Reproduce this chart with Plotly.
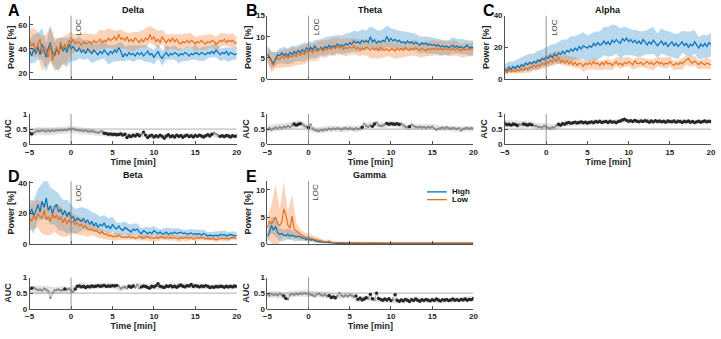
import numpy as np
import plotly.graph_objects as go

# ---------------- data ----------------
t = np.round(np.arange(101) * 0.25 - 5, 2)      # time grid [min], 0.25-min bins

band_names = ["Delta", "Theta", "Alpha", "Beta", "Gamma"]
panel_letters = ["A", "B", "C", "D", "E"]
series_names = ["High", "Low"]
x_ticks = [-5, 0, 5, 10, 15, 20]
auc_ticks = [0, 0.5, 1]
auc_ticktext = ["0", "0.5", "1"]
power_ticks = [[20, 40, 60], [0, 5, 10, 15], [0, 20, 40], [0, 20, 40], [0, 5, 10]]
power_ranges = [[15, 67.5], [0, 15], [0, 40], [0, 41], [0, 11.6]]

delta_high = [38, 34, 40, 36, 42, 35, 44, 38, 33, 41, 45, 37, 34, 40, 36, 43, 38, 41, 37, 44, 40,
              42, 39, 38, 41, 37, 39, 36, 40, 38, 36, 39, 37, 35, 38, 36, 39, 37, 35, 38, 36,
              39, 37, 41, 38, 33, 36, 34, 37, 35, 36, 34, 37, 35, 37, 34, 36, 38, 35, 36, 33,
              36, 38, 34, 32, 35, 37, 34, 36, 35, 37, 36, 34, 36, 35, 37, 36, 34, 36, 35, 37,
              36, 35, 37, 36, 35, 37, 36, 38, 36, 39, 37, 35, 37, 36, 38, 35, 37, 36, 35, 36]
delta_low = [47, 42, 45, 38, 44, 48, 36, 42, 39, 33, 44, 30, 37, 42, 35, 46, 39, 44, 40, 47, 45,
             48, 44, 46, 45, 43, 46, 44, 45, 46, 44, 47, 45, 46, 48, 45, 47, 46, 49, 47, 48,
             50, 47, 52, 48, 49, 47, 50, 46, 48, 46, 49, 47, 45, 48, 46, 49, 47, 52, 48, 50,
             46, 48, 45, 50, 47, 45, 48, 46, 49, 46, 48, 45, 44, 46, 45, 47, 45, 47, 46, 44,
             46, 45, 47, 45, 44, 46, 45, 47, 46, 44, 45, 47, 46, 48, 45, 47, 46, 47, 45, 45]
delta_high_sd = [10, 12, 11, 13, 12, 14, 12, 13, 11, 12, 10,
                 9, 9, 8, 8, 8, 7, 7, 7, 8, 7, 7, 8, 6, 6, 7, 6, 6, 7, 6, 6,
                 6, 6, 6, 5, 6, 6, 5, 6, 5, 6, 5, 6, 5, 5, 6, 5, 5, 6, 5, 5]
delta_low_sd = [9, 12, 10, 14, 13, 15, 12, 14, 11, 12, 9,
                7, 7, 7, 8, 8, 7, 8, 8, 8, 8, 8, 8, 7, 7, 8, 7, 7, 8, 7, 7,
                7, 6, 7, 6, 6, 7, 6, 6, 6, 6, 6, 6, 6, 5, 6, 6, 5, 5, 6, 5]
delta_auc = [0.36, 0.34, 0.38, 0.42, 0.44, 0.43, 0.46, 0.44, 0.42, 0.45, 0.43, 0.46, 0.44,
             0.46, 0.45, 0.47, 0.46, 0.48, 0.47, 0.50, 0.49, 0.51, 0.48, 0.47, 0.46,
             0.45, 0.44, 0.46, 0.43, 0.42, 0.44, 0.41, 0.40, 0.38, 0.40, 0.43, 0.36,
             0.35, 0.33, 0.34, 0.32, 0.33, 0.31, 0.32, 0.34, 0.30, 0.33, 0.22, 0.28,
             0.25, 0.30, 0.27, 0.32, 0.28, 0.33, 0.40, 0.30, 0.22, 0.27, 0.30, 0.24,
             0.28, 0.25, 0.30, 0.26, 0.20, 0.27, 0.31, 0.25, 0.28, 0.24, 0.30, 0.26,
             0.29, 0.23, 0.27, 0.30, 0.25, 0.28, 0.24, 0.29, 0.26, 0.30, 0.27, 0.24,
             0.28, 0.31, 0.27, 0.33, 0.38, 0.34, 0.29, 0.26, 0.28, 0.25, 0.29, 0.27,
             0.24, 0.28, 0.26, 0.27]
delta_auc_sd = [0.12, 0.13, 0.13, 0.12, 0.12, 0.12, 0.11, 0.11, 0.10, 0.10, 0.09, 0.09, 0.09,
                0.09, 0.08, 0.08, 0.08, 0.08, 0.08, 0.08, 0.08, 0.08, 0.08, 0.08, 0.08, 0.08]
delta_sig = [(-5, -4.7), (4.0, 8.3), (8.7, 17.0), (17.9, 20)]

theta_high = [6.0, 5.2, 4.5, 3.6, 4.8, 5.8, 5.5, 6.2, 5.6, 6.0, 5.4, 6.3, 5.8, 6.5, 6.0, 6.8, 6.2,
              7.0, 6.4, 7.4, 6.8, 7.5, 6.9, 7.8, 7.2, 6.8, 7.5, 7.0, 7.7, 7.3, 8.0, 7.5, 7.9,
              7.6, 8.3, 7.8, 8.1, 7.7, 8.4, 8.0, 8.6, 8.2, 9.0, 8.5, 8.8, 8.4, 9.2, 8.7, 9.1,
              8.6, 10.0, 8.8, 9.3, 8.5, 9.0, 8.7, 9.2, 8.9, 10.1, 9.0, 9.6, 9.0, 9.4, 8.8, 9.2,
              8.6, 8.9, 8.4, 9.0, 8.5, 8.8, 8.3, 8.7, 8.4, 8.0, 8.6, 8.2, 8.5, 8.0, 8.3, 7.9,
              8.2, 7.8, 8.1, 7.6, 7.9, 7.5, 7.8, 7.4, 7.7, 8.0, 7.5, 7.8, 7.4, 7.7, 7.2, 7.6,
              8.0, 7.3, 7.6, 7.4]
theta_low = [5.8, 5.0, 4.0, 3.2, 4.4, 5.0, 4.6, 5.4, 4.8, 5.6, 4.9, 5.5, 5.2, 5.8, 5.3, 6.0, 5.6,
             6.2, 5.8, 6.6, 6.3, 6.9, 6.2, 7.0, 6.5, 6.8, 7.2, 6.6, 7.1, 6.9, 7.4, 7.0, 7.6,
             7.2, 7.8, 7.3, 7.6, 7.0, 7.5, 7.2, 7.7, 7.3, 7.8, 7.1, 7.5, 6.8, 7.4, 7.0, 7.6,
             7.2, 6.8, 7.4, 7.0, 7.3, 6.7, 7.5, 7.0, 6.8, 7.2, 6.6, 7.1, 7.0, 6.6, 7.3, 6.8,
             7.2, 6.9, 7.5, 7.0, 6.8, 7.3, 7.0, 7.4, 7.1, 6.8, 7.3, 7.0, 6.7, 7.2, 6.9, 7.3,
             7.0, 7.4, 6.9, 7.2, 6.8, 7.3, 7.0, 7.1, 6.9, 7.3, 6.8, 7.2, 7.0, 6.7, 7.2, 6.9,
             7.1, 7.0, 7.2, 7.0]
theta_high_sd = [1.8, 2.0, 1.6, 1.8, 2.0, 1.9, 2.1, 1.8, 2.0, 2.2, 1.9,
                 2.0, 2.1, 1.9, 2.2, 2.0, 2.3, 2.1, 2.2, 2.4, 2.3,
                 2.5, 2.4, 2.6, 2.3, 2.5, 2.7, 2.4, 2.6, 2.5, 2.4,
                 2.3, 2.2, 2.4, 2.1, 2.2, 2.0, 2.1, 1.9, 2.0, 1.9,
                 1.8, 1.9, 1.7, 1.8, 1.9, 1.7, 1.8, 1.7, 1.8, 1.7]
theta_low_sd = [2.0, 2.4, 1.8, 2.0, 2.2, 2.1, 2.3, 2.0, 2.2, 2.3, 2.1,
                2.0, 2.2, 2.0, 2.1, 1.9, 2.1, 2.0, 1.9, 2.1, 2.0,
                1.9, 2.0, 1.8, 2.0, 1.9, 2.1, 1.9, 2.0, 1.8, 1.9,
                1.8, 1.9, 1.8, 1.7, 1.8, 1.9, 1.7, 1.8, 1.7, 1.8,
                1.7, 1.8, 1.6, 1.7, 1.8, 1.7, 1.6, 1.7, 1.6, 1.7]
theta_auc = [0.50, 0.53, 0.48, 0.52, 0.55, 0.52, 0.57, 0.54, 0.58, 0.56, 0.60, 0.57, 0.62,
             0.67, 0.63, 0.66, 0.68, 0.66, 0.60, 0.58, 0.55, 0.65, 0.52, 0.47, 0.45,
             0.44, 0.47, 0.45, 0.49, 0.48, 0.51, 0.49, 0.52, 0.50, 0.53, 0.51, 0.49,
             0.52, 0.54, 0.50, 0.53, 0.51, 0.49, 0.53, 0.50, 0.52, 0.56, 0.68, 0.60,
             0.58, 0.62, 0.59, 0.67, 0.72, 0.63, 0.60, 0.62, 0.65, 0.69, 0.66, 0.68,
             0.67, 0.66, 0.68, 0.65, 0.68, 0.62, 0.58, 0.56, 0.58, 0.65, 0.60, 0.57,
             0.56, 0.58, 0.55, 0.57, 0.54, 0.57, 0.55, 0.58, 0.52, 0.48, 0.51, 0.53,
             0.55, 0.52, 0.56, 0.53, 0.51, 0.54, 0.52, 0.50, 0.53, 0.45, 0.50, 0.52,
             0.54, 0.51, 0.53, 0.52]
theta_auc_sd = [0.12, 0.12, 0.11, 0.11, 0.11, 0.11, 0.10, 0.10, 0.10, 0.10, 0.10, 0.10, 0.10,
                0.10, 0.10, 0.10, 0.10, 0.09, 0.09, 0.09, 0.09, 0.09, 0.09, 0.09, 0.09, 0.09]
theta_sig = [(-1.8, -1.0), (-0.05, 0.05), (6.4, 6.6), (7.7, 8.1), (9.4, 11.1), (12.2, 12.3)]

alpha_high = [6.5, 5.0, 7.5, 6.0, 8.0, 6.5, 8.5, 7.0, 9.0, 8.0, 10.0, 9.0, 10.5, 9.5, 11.0, 10.0,
              12.0, 11.0, 13.0, 12.0, 14.0, 13.0, 15.0, 13.5, 16.0, 14.5, 16.5, 15.5, 17.5,
              16.0, 18.0, 17.0, 19.0, 17.5, 19.5, 18.0, 20.5, 19.0, 21.0, 20.0, 19.5,
              21.0, 20.0, 22.5, 21.0, 23.0, 21.5, 22.0, 24.0, 22.0, 23.5, 21.5, 24.5,
              23.0, 25.0, 23.5, 22.5, 25.5, 24.0, 26.0, 23.5, 25.0, 23.0, 24.5, 22.5,
              24.0, 22.0, 25.0, 23.0, 21.5, 23.5, 22.0, 24.5, 23.0, 21.0, 22.5, 24.0,
              21.5, 23.0, 20.5, 22.0, 23.5, 21.0, 22.5, 20.5, 22.0, 23.5, 21.0, 22.5,
              20.0, 22.0, 21.0, 23.5, 21.5, 19.5, 22.0, 20.5, 22.5, 20.5, 23.0, 21.5]
alpha_low = [5.0, 4.0, 6.0, 4.5, 5.5, 4.5, 6.0, 5.0, 6.5, 5.5, 7.0, 6.0, 7.5, 7.0, 8.5, 7.5, 9.0,
             8.0, 10.0, 9.0, 11.0, 10.0, 12.0, 10.5, 13.0, 11.0, 14.0, 10.5, 12.0,
             10.0, 11.5, 9.5, 11.0, 9.0, 10.5, 8.5, 10.0, 9.5, 8.0, 10.0, 9.0,
             10.5, 9.0, 11.0, 9.5, 10.0, 8.5, 10.5, 9.0, 11.0, 9.5, 10.0, 8.5,
             9.5, 11.0, 9.0, 10.0, 8.5, 10.5, 9.5, 11.0, 10.0, 9.0, 11.5, 10.0,
             9.5, 10.5, 9.0, 10.0, 11.0, 9.5, 10.5, 9.0, 10.0, 11.0, 9.5, 10.5,
             9.0, 10.0, 9.5, 11.0, 9.5, 8.5, 10.0, 9.0, 10.5, 9.5, 11.0, 12.0,
             13.0, 11.0, 10.0, 11.5, 10.0, 9.0, 10.5, 9.5, 9.0, 10.0, 9.5, 9.0]
alpha_high_sd = [3.0, 3.5, 3.0, 4.0, 4.5, 5.0, 5.5, 5.0, 6.0, 5.5, 6.0,
                 6.5, 6.0, 7.0, 7.5, 7.0, 8.0, 7.5, 8.0, 8.5, 8.0,
                 8.5, 9.0, 8.5, 9.0, 9.5, 10.0, 9.0, 9.5, 9.0, 8.5,
                 8.0, 8.5, 8.0, 7.5, 8.0, 8.5, 7.5, 8.0, 7.5, 8.0,
                 7.5, 8.0, 7.0, 7.5, 8.0, 7.5, 7.0, 7.5, 7.0, 7.5]
alpha_low_sd = [2.0, 2.5, 2.0, 2.5, 3.0, 3.0, 3.5, 3.0, 3.5, 3.5, 4.0,
                4.0, 4.5, 4.0, 3.5, 3.5, 3.0, 3.5, 3.0, 3.5, 3.0,
                3.0, 3.5, 3.0, 3.0, 3.5, 3.0, 3.0, 3.5, 3.0, 3.0,
                3.0, 3.5, 3.0, 3.0, 3.0, 3.5, 3.0, 3.0, 3.5, 3.0,
                3.0, 3.0, 3.5, 3.0, 3.5, 3.0, 3.0, 3.0, 3.5, 3.0]
alpha_auc = [0.68, 0.64, 0.66, 0.63, 0.67, 0.65, 0.62, 0.66, 0.64, 0.67, 0.65, 0.63, 0.66,
             0.64, 0.62, 0.60, 0.58, 0.57, 0.55, 0.60, 0.58, 0.54, 0.52, 0.56, 0.55,
             0.62, 0.66, 0.63, 0.68, 0.66, 0.70, 0.72, 0.69, 0.71, 0.73, 0.70, 0.72,
             0.74, 0.71, 0.73, 0.70, 0.72, 0.74, 0.71, 0.75, 0.73, 0.76, 0.72, 0.74,
             0.75, 0.72, 0.76, 0.73, 0.74, 0.71, 0.75, 0.77, 0.80, 0.83, 0.79, 0.76,
             0.78, 0.75, 0.79, 0.76, 0.74, 0.77, 0.75, 0.78, 0.76, 0.73, 0.77, 0.74,
             0.78, 0.75, 0.77, 0.74, 0.76, 0.73, 0.77, 0.75, 0.74, 0.77, 0.73, 0.76,
             0.75, 0.72, 0.76, 0.74, 0.77, 0.73, 0.75, 0.72, 0.74, 0.76, 0.73, 0.75,
             0.77, 0.74, 0.76, 0.75]
alpha_auc_sd = [0.12, 0.12, 0.12, 0.11, 0.11, 0.11, 0.10, 0.10, 0.09, 0.09, 0.09, 0.08, 0.08,
                0.08, 0.08, 0.08, 0.08, 0.08, 0.08, 0.08, 0.08, 0.08, 0.08, 0.08, 0.08, 0.08]
alpha_sig = [(-5, -3.3), (-2.9, -1.6), (1.4, 20)]

beta_high = [20, 23, 18, 22, 26, 21, 28, 24, 30, 22, 25, 20, 24, 26, 21, 23, 19, 22, 18, 21, 17,
             18, 15, 17, 16, 15, 17, 14, 16, 13, 15, 12, 14, 11, 13, 12, 14, 11, 12, 10, 13,
             11, 10, 12, 10, 9, 11, 10, 9, 8, 10, 9, 10, 8, 7, 9, 8, 7, 8, 7, 9,
             8, 7, 8, 7, 7, 8, 6.5, 7.5, 7, 8, 7, 7.5, 8, 7, 7.5, 6.5, 7, 7.5, 6.5, 7,
             6.5, 7, 6, 7, 6.5, 5.5, 6, 5.5, 5.5, 6, 5.5, 6.5, 6, 6.5, 5.5, 6, 6.5, 6, 5.5, 6]
beta_low = [17, 15, 19, 16, 20, 18, 17, 22, 16, 18, 15, 20, 17, 19, 16, 18, 14, 17, 13, 16, 14,
            15, 13, 14, 12, 13, 11, 12, 10, 9.5, 10, 8.5, 9, 8, 7, 8.5, 6.5, 7, 5.5, 6, 5,
            5.5, 5, 6, 5, 4.5, 5, 4.5, 5, 4.5, 5, 4, 4.5, 5, 4.5, 4, 4.5, 5, 4, 4.5, 4,
            4.5, 4, 4.5, 5, 4, 4.5, 4, 4.5, 4, 4.5, 4, 3.5, 4.5, 4, 4.5, 4, 4, 4.5, 3.5, 4,
            4.5, 4, 4.5, 4, 3.5, 4, 3.5, 4, 3.5, 3, 3.5, 4, 4, 3.5, 4, 3.5, 4, 4.5, 4, 4]
beta_high_sd = [9, 11, 10, 12, 13, 12, 11, 12, 10, 11, 9,
                8, 8, 7, 7, 6, 6, 5, 5, 5, 5,
                4, 4, 4, 4, 3.5, 3.5, 3.5, 3.5, 3, 3,
                3, 3, 3, 3, 2.5, 3, 2.5, 3, 2.5, 2.5,
                2.5, 2.5, 2.5, 2.5, 2.5, 2, 2.5, 2, 2.5, 2]
beta_low_sd = [8, 9, 9, 10, 10, 9, 9, 10, 9, 8, 7,
               6, 6, 5, 5, 4, 4, 3, 3, 2.5, 2.5,
               2.5, 2, 2, 2, 2, 2, 2, 2, 2, 2,
               2, 2, 2, 2, 2, 2, 1.5, 2, 1.5, 2,
               1.5, 1.5, 1.5, 1.5, 1.5, 1.5, 1.5, 1.5, 1.5, 1.5]
beta_auc = [0.62, 0.66, 0.68, 0.63, 0.60, 0.62, 0.58, 0.64, 0.61, 0.55, 0.35, 0.50, 0.58,
            0.60, 0.62, 0.58, 0.60, 0.63, 0.62, 0.64, 0.58, 0.54, 0.63, 0.72, 0.73,
            0.70, 0.72, 0.68, 0.71, 0.70, 0.73, 0.71, 0.72, 0.74, 0.72, 0.73, 0.75,
            0.71, 0.73, 0.72, 0.74, 0.73, 0.75, 0.72, 0.65, 0.68, 0.70, 0.66, 0.72,
            0.69, 0.73, 0.68, 0.76, 0.66, 0.70, 0.73, 0.71, 0.68, 0.66, 0.72, 0.70,
            0.74, 0.80, 0.72, 0.70, 0.68, 0.73, 0.71, 0.74, 0.70, 0.72, 0.69, 0.73,
            0.76, 0.72, 0.70, 0.74, 0.73, 0.78, 0.71, 0.74, 0.72, 0.70, 0.73, 0.71,
            0.74, 0.72, 0.68, 0.70, 0.69, 0.71, 0.70, 0.72, 0.71, 0.69, 0.72, 0.70,
            0.72, 0.70, 0.73, 0.71]
beta_auc_sd = [0.12, 0.13, 0.13, 0.12, 0.12, 0.11, 0.10, 0.10, 0.09, 0.09, 0.09, 0.09, 0.08,
               0.08, 0.08, 0.08, 0.08, 0.08, 0.08, 0.08, 0.08, 0.08, 0.08, 0.08, 0.08, 0.08]
beta_sig = [(-4.8, -4.7), (-0.8, -0.7), (0.4, 5.6), (6.9, 7.6), (8.4, 20)]

gamma_high = [1.5, 2.2, 3.5, 2.6, 3.3, 2.2, 1.8, 2.0, 1.7, 1.6, 1.9, 1.5, 1.7, 1.6, 1.4, 1.5, 1.3,
              1.2, 1.1, 0.9, 1.0, 0.8, 0.9, 0.7, 0.6, 0.5, 0.45, 0.4, 0.35, 0.3, 0.3, 0.25, 0.25,
              0.22, 0.2, 0.2, 0.18,
              0.18, 0.17, 0.18, 0.16, 0.17, 0.16, 0.18, 0.17, 0.16, 0.17, 0.16, 0.15, 0.16, 0.17, 0.15, 0.16,
              0.16, 0.15, 0.16, 0.17, 0.15, 0.16, 0.15, 0.16, 0.17, 0.15, 0.16, 0.15, 0.16, 0.15, 0.16, 0.17,
              0.15, 0.16, 0.15, 0.16, 0.15, 0.16, 0.17, 0.15, 0.16, 0.15, 0.16, 0.15, 0.16, 0.15, 0.16, 0.15,
              0.15, 0.16, 0.15, 0.16, 0.15, 0.16, 0.15, 0.16, 0.15, 0.16, 0.15, 0.16, 0.15, 0.16, 0.15, 0.16]
gamma_low = [3.0, 4.2, 3.8, 4.5, 5.0, 3.8, 3.5, 4.0, 6.5, 5.5, 3.5, 3.0, 5.2, 2.8, 2.5, 2.2, 1.8,
             1.6, 1.4, 1.3, 1.2, 1.2, 1.0, 0.9, 0.8, 0.7, 0.6, 0.55, 0.5, 0.45, 0.6, 0.4, 0.38,
             0.35, 0.34, 0.33, 0.32,
             0.32, 0.31, 0.30, 0.32, 0.31, 0.30, 0.32, 0.30, 0.31, 0.30, 0.29, 0.31, 0.30, 0.32, 0.30, 0.29,
             0.30, 0.31, 0.29, 0.30, 0.31, 0.29, 0.30, 0.31, 0.30, 0.29, 0.31, 0.30, 0.29, 0.30, 0.31, 0.29,
             0.30, 0.31, 0.29, 0.30, 0.30, 0.29, 0.31, 0.30, 0.29, 0.30, 0.29, 0.31, 0.30, 0.29, 0.30, 0.31,
             0.29, 0.30, 0.31, 0.29, 0.30, 0.29, 0.30, 0.31, 0.29, 0.30, 0.29, 0.30, 0.31, 0.29, 0.30, 0.30]
gamma_high_sd = [1.0, 1.5, 1.8, 1.2, 1.0, 1.0, 0.9, 0.8, 0.6, 0.5, 0.4,
                 0.35, 0.3, 0.25, 0.2, 0.15, 0.12, 0.1, 0.1, 0.1, 0.1,
                 0.08, 0.08, 0.08, 0.08, 0.08, 0.08, 0.08, 0.08, 0.08, 0.08,
                 0.08, 0.08, 0.08, 0.08, 0.08, 0.08, 0.08, 0.08, 0.08, 0.08,
                 0.08, 0.08, 0.08, 0.08, 0.08, 0.08, 0.08, 0.08, 0.08, 0.08]
gamma_low_sd = [2.0, 3.5, 6.0, 3.0, 5.0, 2.5, 4.0, 1.5, 1.0, 0.8, 0.7,
                0.6, 0.5, 0.4, 0.3, 0.3, 0.25, 0.2, 0.2, 0.15, 0.15,
                0.12, 0.12, 0.12, 0.12, 0.12, 0.12, 0.12, 0.12, 0.12, 0.12,
                0.12, 0.12, 0.12, 0.12, 0.12, 0.12, 0.12, 0.12, 0.12, 0.12,
                0.12, 0.12, 0.12, 0.12, 0.12, 0.12, 0.12, 0.12, 0.12, 0.12]
gamma_auc = [0.45, 0.42, 0.47, 0.44, 0.46, 0.43, 0.48, 0.45, 0.41, 0.33, 0.30, 0.44, 0.47,
             0.45, 0.48, 0.46, 0.49, 0.47, 0.50, 0.48, 0.49, 0.45, 0.43, 0.40, 0.46,
             0.48, 0.44, 0.42, 0.45, 0.40, 0.42, 0.36, 0.38, 0.35, 0.41, 0.50, 0.42,
             0.39, 0.43, 0.40, 0.44, 0.42, 0.38, 0.41, 0.30, 0.34, 0.28, 0.31, 0.35,
             0.33, 0.46, 0.32, 0.29, 0.50, 0.33, 0.30, 0.27, 0.31, 0.28, 0.32, 0.26,
             0.30, 0.45, 0.27, 0.24, 0.28, 0.25, 0.30, 0.27, 0.23, 0.29, 0.26, 0.31,
             0.27, 0.24, 0.29, 0.26, 0.30, 0.27, 0.25, 0.29, 0.26, 0.31, 0.28, 0.25,
             0.29, 0.27, 0.30, 0.26, 0.28, 0.31, 0.27, 0.29, 0.26, 0.30, 0.28, 0.31,
             0.27, 0.30, 0.29, 0.33]
gamma_auc_sd = [0.11, 0.11, 0.11, 0.10, 0.10, 0.10, 0.10, 0.10, 0.09, 0.09, 0.09, 0.09, 0.08,
                0.08, 0.08, 0.08, 0.08, 0.08, 0.08, 0.08, 0.08, 0.08, 0.08, 0.08, 0.08, 0.08]
gamma_sig = [(-3.1, -2.7), (2.4, 3.3), (5.7, 7.1), (7.4, 7.9), (8.2, 10.1), (10.4, 20)]

high_means = [delta_high, theta_high, alpha_high, beta_high, gamma_high]
low_means = [delta_low, theta_low, alpha_low, beta_low, gamma_low]
high_sds = [delta_high_sd, theta_high_sd, alpha_high_sd, beta_high_sd, gamma_high_sd]
low_sds = [delta_low_sd, theta_low_sd, alpha_low_sd, beta_low_sd, gamma_low_sd]
aucs = [delta_auc, theta_auc, alpha_auc, beta_auc, gamma_auc]
auc_sds = [delta_auc_sd, theta_auc_sd, alpha_auc_sd, beta_auc_sd, gamma_auc_sd]
sigs = [delta_sig, theta_sig, alpha_sig, beta_sig, gamma_sig]

for arr in high_means + low_means + aucs:
    assert len(arr) == 101, len(arr)
for arr in high_sds + low_sds:
    assert len(arr) == 51, len(arr)
for arr in auc_sds:
    assert len(arr) == 26, len(arr)

# ---------------- style / layout ----------------
W, H = 721, 339
FONT = "Liberation Sans, Arial, sans-serif"
AX = "#262626"
BLUE = "#0072BD"
ORANGE = "#E4701E"
BLUE_FILL = "rgba(0,114,189,0.28)"
ORANGE_FILL = "rgba(240,120,40,0.33)"
GRAY_FILL = "rgba(150,150,150,0.28)"

col_px = [(25, 235), (266, 475), (507, 716)]
pow_px = [(12, 77), (182, 247)]
auc_px = [(113, 144), (281, 313)]
pos = [(0, 0), (1, 0), (2, 0), (0, 1), (1, 1)]


def fx(p):
    return p / W


def fy(p):
    return 1 - p / H


fig = go.Figure()
layout = dict(width=W, height=H, margin=dict(l=0, r=0, t=0, b=0),
              paper_bgcolor="white", plot_bgcolor="rgba(0,0,0,0)",
              font=dict(family=FONT, size=8, color=AX, weight="bold"),
              showlegend=False)
shapes, annotations = [], []

tb = t[::2]
ta = t[::4]


def axname(k):
    return "" if k == 1 else str(k)


for p in range(5):
    c, r = pos[p]
    kp, ka = 2 * p + 1, 2 * p + 2
    xp, yp, xa, ya = "x" + axname(kp), "y" + axname(kp), "x" + axname(ka), "y" + axname(ka)
    xd = [fx(col_px[c][0]), fx(col_px[c][1])]

    base_x = dict(domain=xd, range=[-5, 20], showline=True, linecolor=AX, linewidth=0.8,
                  ticks="inside", ticklen=3, tickcolor=AX, tickwidth=0.8, tickvals=x_ticks,
                  showgrid=False, zeroline=False, fixedrange=True, ticklabeloverflow="allow",
                  tickfont=dict(size=8, weight="bold", color=AX))
    layout["xaxis" + axname(kp)] = dict(base_x, anchor=yp, showticklabels=False)
    layout["xaxis" + axname(ka)] = dict(base_x, anchor=ya, showticklabels=True,
                                        title=dict(text="Time [min]", standoff=0,
                                                   font=dict(size=9, weight="bold")))
    base_y = dict(showline=True, linecolor=AX, linewidth=0.8, ticks="inside", ticklen=3,
                  tickcolor=AX, tickwidth=0.8, showgrid=False, zeroline=False, fixedrange=True,
                  tickfont=dict(size=8, weight="bold", color=AX))
    layout["yaxis" + axname(kp)] = dict(base_y, anchor=xp,
                                        domain=[fy(pow_px[r][1]), fy(pow_px[r][0])],
                                        range=power_ranges[p], tickvals=power_ticks[p],
                                        title=dict(text="Power [%]", standoff=2,
                                                   font=dict(size=9, weight="bold")))
    layout["yaxis" + axname(ka)] = dict(base_y, anchor=xa,
                                        domain=[fy(auc_px[r][1]), fy(auc_px[r][0])],
                                        range=[0, 1], tickvals=auc_ticks, ticktext=auc_ticktext,
                                        title=dict(text="AUC", standoff=2,
                                                   font=dict(size=9, weight="bold")))

    hi, lo = np.array(high_means[p], float), np.array(low_means[p], float)
    hs, ls = np.array(high_sds[p], float), np.array(low_sds[p], float)
    for m, s, fillc in ((hi[::2], hs, BLUE_FILL), (lo[::2], ls, ORANGE_FILL)):
        fig.add_trace(go.Scatter(x=list(tb) + list(tb[::-1]),
                                 y=list(m + s) + list((m - s)[::-1]),
                                 fill="toself", fillcolor=fillc, line=dict(width=0),
                                 mode="lines", hoverinfo="skip", showlegend=False,
                                 xaxis=xp, yaxis=yp))
    for m, col, nm in ((hi, BLUE, series_names[0]), (lo, ORANGE, series_names[1])):
        fig.add_trace(go.Scatter(x=t, y=m, mode="lines", line=dict(color=col, width=1.2),
                                 name=nm, showlegend=False, xaxis=xp, yaxis=yp))

    auc = np.array(aucs[p], float)
    asd = np.array(auc_sds[p], float)
    am = auc[::4]
    fig.add_trace(go.Scatter(x=list(ta) + list(ta[::-1]),
                             y=list(am + asd) + list((am - asd)[::-1]),
                             fill="toself", fillcolor=GRAY_FILL, line=dict(width=0),
                             mode="lines", hoverinfo="skip", showlegend=False,
                             xaxis=xa, yaxis=ya))
    fig.add_trace(go.Scatter(x=t, y=auc, mode="lines+markers",
                             line=dict(color="#939393", width=0.8),
                             marker=dict(size=2.5, color="#8a8a8a"),
                             showlegend=False, xaxis=xa, yaxis=ya))
    mask = np.zeros(len(t), bool)
    for a, b in sigs[p]:
        mask |= (t >= a - 1e-9) & (t <= b + 1e-9)
    fig.add_trace(go.Scatter(x=t[mask], y=auc[mask], mode="markers",
                             marker=dict(size=3.4, color="#262626"),
                             showlegend=False, xaxis=xa, yaxis=ya))

    # LOC lines and chance line
    for xr, yr in ((xp, yp), (xa, ya)):
        shapes.append(dict(type="line", xref=xr, yref=yr + " domain", x0=0, x1=0, y0=0, y1=1,
                           line=dict(color="#7a7a7a", width=0.8), layer="above"))
    shapes.append(dict(type="line", xref=xa, yref=ya, x0=-5, x1=20, y0=0.5, y1=0.5,
                       line=dict(color="#9a9a9a", width=0.8), layer="below"))

    annotations.append(dict(text="LOC", x=0, y=1, xref=xp, yref=yp + " domain",
                            xanchor="left", yanchor="top", textangle=-90, showarrow=False,
                            xshift=1, yshift=-1, font=dict(size=8, weight="normal", color="#404040")))
    annotations.append(dict(text=band_names[p], x=(xd[0] + xd[1]) / 2,
                            y=fy(pow_px[r][0] - 6), xref="paper", yref="paper",
                            xanchor="center", yanchor="middle", showarrow=False,
                            font=dict(size=9, weight="bold", color="#111")))
    annotations.append(dict(text=panel_letters[p], x=fx(col_px[c][0] - 24),
                            y=fy(pow_px[r][0] - 5), xref="paper", yref="paper",
                            xanchor="left", yanchor="middle", showarrow=False,
                            font=dict(size=16, weight="bold", color="#000")))

# legend of panel E (drawn as line samples + labels, MATLAB style)
leg_rows = [(193, BLUE, series_names[0]), (201, ORANGE, series_names[1])]
for ypx, col, nm in leg_rows:
    shapes.append(dict(type="line", xref="paper", yref="paper", x0=fx(428), x1=fx(448),
                       y0=fy(ypx), y1=fy(ypx), line=dict(color=col, width=1.3)))
    annotations.append(dict(text=nm, x=fx(451), y=fy(ypx), xref="paper", yref="paper",
                            xanchor="left", yanchor="middle", showarrow=False,
                            font=dict(size=8, weight="bold", color="#111")))

layout["shapes"] = shapes
layout["annotations"] = annotations
fig.update_layout(**layout)
fig.write_html("out.html", config={"displayModeBar": False, "staticPlot": True},
               post_script="document.body.style.margin='0';"
                           "document.body.style.overflow='hidden';")
